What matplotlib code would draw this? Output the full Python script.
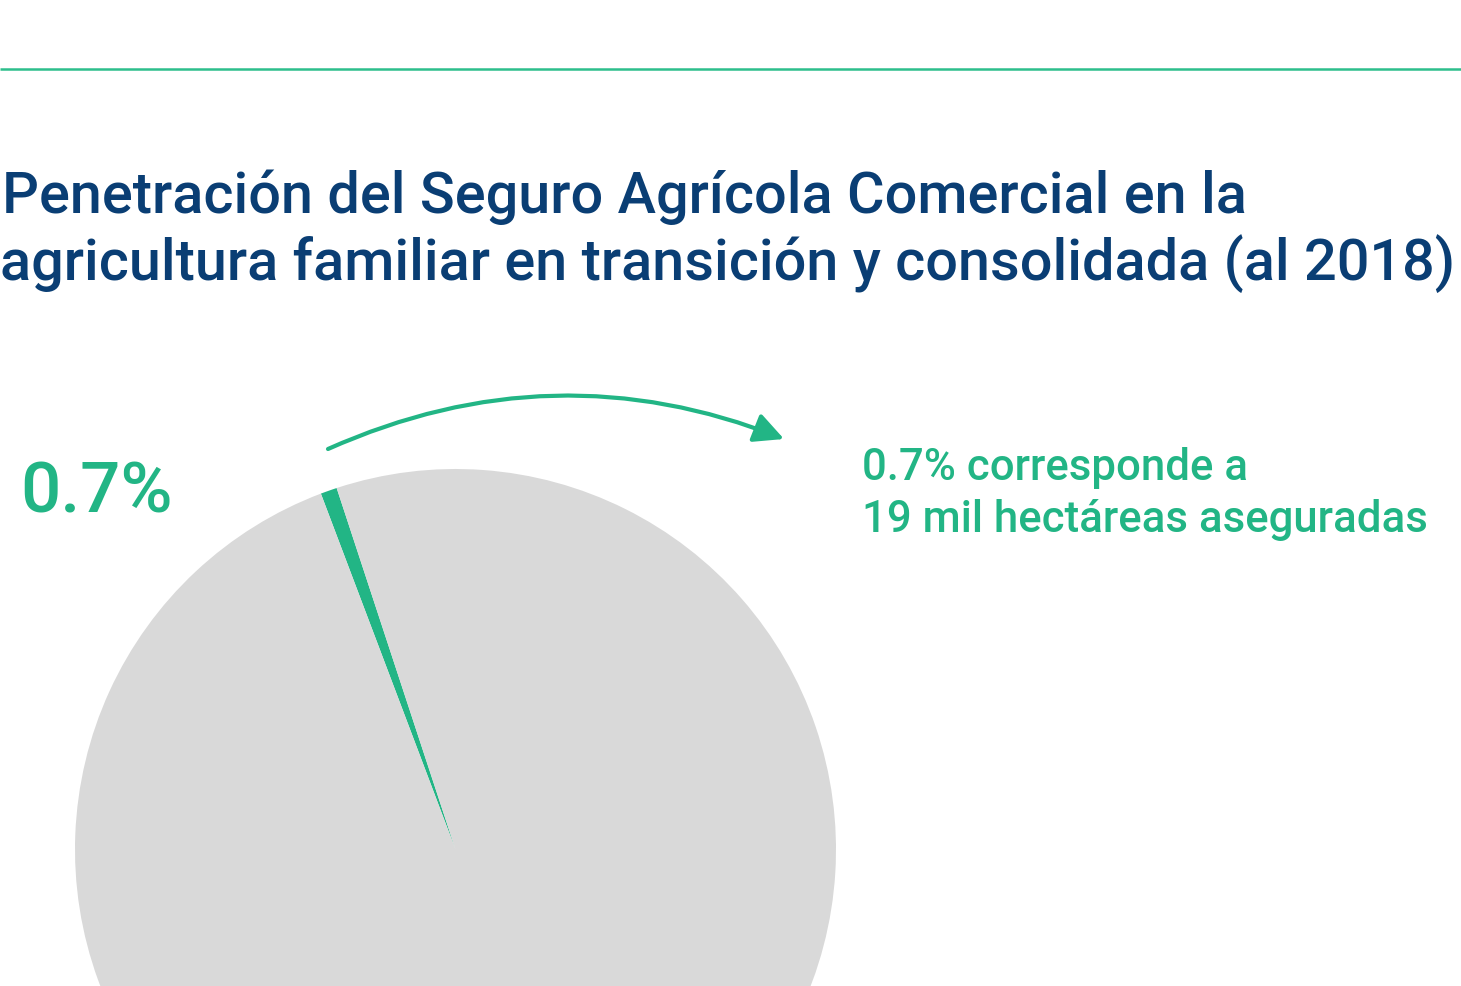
import matplotlib.pyplot as plt
from matplotlib.patches import FancyArrowPatch

# data
shares = [0.7, 99.3]
share_labels = ["Asegurado", "No asegurado"]
big_label = "0.7%"
note_lines = ["0.7% corresponde a", "19 mil hectáreas aseguradas"]
title_lines = ["Penetración del Seguro Agrícola Comercial en la",
               "agricultura familiar en transición y consolidada (al 2018)"]

GREEN = "#22b585"
GREY = "#d9d9d9"
BLUE = "#0a3e74"
W, H = 1461, 987

plt.rcParams['font.family'] = ['Roboto', 'DejaVu Sans']

fig = plt.figure(figsize=(W / 100, H / 100), dpi=100)
ax = fig.add_axes([0, 0, 1, 1])

# pie, pixel coordinates with y going up
ax.pie(shares, colors=[GREEN, GREY], startangle=108.2, counterclock=True,
       center=(455.5, H - 850.5), radius=380.5,
       wedgeprops=dict(linewidth=0))
ax.set_xlim(0, W)
ax.set_ylim(0, H)
ax.set_aspect('equal', adjustable='box')
ax.axis('off')

# top rule
ax.plot([0, W], [H - 70, H - 70], color="#2dbe8c", lw=1.8, solid_capstyle='butt')

# title
ax.text(2, H - 213, title_lines[0], fontsize=41.5, fontweight='medium', color=BLUE,
        va='baseline', ha='left')
ax.text(0, H - 280, title_lines[1], fontsize=41.5, fontweight='medium', color=BLUE,
        va='baseline', ha='left')

# big percent
ax.text(20, H - 513, big_label, fontsize=51, fontweight='medium', color=GREEN,
        va='baseline', ha='left')

# note
ax.text(862, H - 480, note_lines[0], fontsize=31.5, fontweight='medium', color=GREEN,
        va='baseline', ha='left')
ax.text(862, H - 532, note_lines[1], fontsize=31.5, fontweight='medium', color=GREEN,
        va='baseline', ha='left')

# curved arrow
arr = FancyArrowPatch((328, H - 450), (784, H - 440),
                      connectionstyle="arc3,rad=-0.21",
                      arrowstyle="-|>,head_length=0.9,head_width=0.45",
                      mutation_scale=20, color=GREEN, lw=3, shrinkA=0, shrinkB=0)
ax.add_patch(arr)

fig.savefig("out.png", dpi=100)
